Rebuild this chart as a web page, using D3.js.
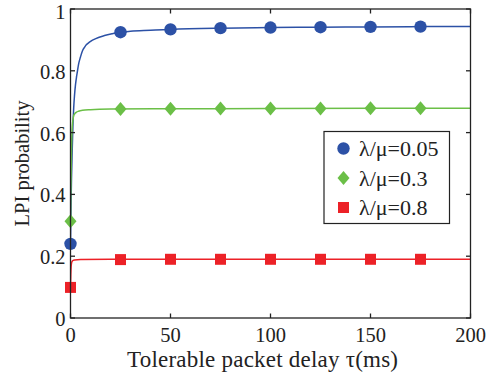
<!DOCTYPE html>
<html><head><meta charset="utf-8">
<script src="https://cdn.jsdelivr.net/npm/d3@7"></script>
<style>body{margin:0;background:#fff}</style>
</head><body><svg id="c" width="497" height="374"></svg>
<script>
// Data
const xTicks = [0, 50, 100, 150, 200];
const yTicks = [0, 0.2, 0.4, 0.6, 0.8, 1];
const yTickLabels = ["0", "0.2", "0.4", "0.6", "0.8", "1"];
const markerTau = [0, 25, 50, 75, 100, 125, 150, 175];
const blueMarkers = [0.24, 0.925, 0.934, 0.938, 0.940, 0.941, 0.942, 0.943];
const greenMarkers = [0.313, 0.676, 0.677, 0.678, 0.678, 0.678, 0.679, 0.679];
const redMarkers = [0.099, 0.189, 0.19, 0.19, 0.19, 0.19, 0.19, 0.19];
const blueCurveTau = [0, 0.25, 0.5, 0.85, 1.2, 1.6, 2, 2.5, 3, 3.5, 4, 5, 6, 7, 8, 9.3, 11, 14, 17, 21, 25, 30, 40, 50, 75, 100, 125, 150, 175, 200];
const blueCurveVal = [0.24, 0.36, 0.45, 0.54, 0.62, 0.68, 0.72, 0.755, 0.78, 0.80, 0.82, 0.845, 0.865, 0.876, 0.885, 0.892, 0.899, 0.908, 0.914, 0.92, 0.925, 0.928, 0.931, 0.934, 0.938, 0.940, 0.941, 0.942, 0.943, 0.943];
const greenCurveTau = [0, 0.2, 0.4, 0.6, 0.8, 1.1, 1.5, 2, 3, 4, 6, 10, 20, 50, 100, 200];
const greenCurveVal = [0.31, 0.42, 0.50, 0.57, 0.61, 0.635, 0.652, 0.66, 0.666, 0.669, 0.672, 0.674, 0.676, 0.677, 0.678, 0.679];
const redCurveTau = [0, 0.15, 0.3, 0.5, 0.8, 1.2, 2, 5, 20, 200];
const redCurveVal = [0.10, 0.14, 0.165, 0.177, 0.183, 0.186, 0.188, 0.189, 0.19, 0.19];
const seriesNames = ["λ/μ=0.05", "λ/μ=0.3", "λ/μ=0.8"];
const seriesColors = ["#2c51a6", "#6bbf47", "#ec2127"];
const seriesShapes = ["circle", "diamond", "square"];

const FONT = "'Liberation Serif', 'DejaVu Serif', serif";
const svg = d3.select("#c");
const L = 70.5, R = 470.5, T = 9, B = 318;
const x = d3.scaleLinear().domain([0, 200]).range([L, R]);
const y = d3.scaleLinear().domain([0, 1]).range([B, T]);

const curves = [
  [blueCurveTau, blueCurveVal],
  [greenCurveTau, greenCurveVal],
  [redCurveTau, redCurveVal]
];
const markers = [blueMarkers, greenMarkers, redMarkers];
const line = d3.line().x(d => x(d[0])).y(d => y(d[1])).curve(d3.curveMonotoneX);
svg.append("clipPath").attr("id", "pc").append("rect")
  .attr("x", L).attr("y", T).attr("width", R - L).attr("height", B - T);

function shapePath(s) {
  if (s === "circle") return d3.symbol(d3.symbolCircle, Math.PI * 6.2 * 6.2)();
  if (s === "square") return "M-5.5,-5.5H5.5V5.5H-5.5Z";
  return "M0,-7L6,0L0,7L-6,0Z";
}

curves.forEach((c, i) => {
  const pts = c[0].map((t, k) => [t, c[1][k]]);
  svg.append("path").attr("d", line(pts)).attr("fill", "none")
    .attr("stroke", seriesColors[i]).attr("stroke-width", 1.5)
    .attr("clip-path", "url(#pc)");
});
[0, 1, 2].forEach(i => {
  markerTau.forEach((t, k) => {
    svg.append("path").attr("d", shapePath(seriesShapes[i]))
      .attr("transform", `translate(${x(t)},${y(markers[i][k])})`)
      .attr("fill", seriesColors[i]);
  });
});

const ax = svg.append("g").attr("stroke", "#222").attr("stroke-width", 1.3);
ax.append("rect").attr("x", L).attr("y", T).attr("width", R - L).attr("height", B - T).attr("fill", "none");
const tl = 4.5;
xTicks.forEach(v => {
  ax.append("line").attr("x1", x(v)).attr("x2", x(v)).attr("y1", B).attr("y2", B - tl);
  ax.append("line").attr("x1", x(v)).attr("x2", x(v)).attr("y1", T).attr("y2", T + tl);
});
yTicks.forEach(v => {
  ax.append("line").attr("x1", L).attr("x2", L + tl).attr("y1", y(v)).attr("y2", y(v));
  ax.append("line").attr("x1", R).attr("x2", R - tl).attr("y1", y(v)).attr("y2", y(v));
});
function txt(g, fs) { return g.append("text").attr("font-family", FONT).attr("font-size", fs).attr("fill", "#222"); }
xTicks.forEach(v => {
  txt(svg, 20.5).attr("x", x(v)).attr("y", 341.5).attr("text-anchor", "middle").text(v);
});
yTicks.forEach((v, i) => {
  txt(svg, 20.5).attr("x", L - 5).attr("y", Math.max(y(v) + 8, 18.5)).attr("text-anchor", "end").text(yTickLabels[i]);
});
txt(svg, 23).attr("x", (L + R) / 2 - 8).attr("y", 366.5).attr("text-anchor", "middle")
  .attr("textLength", 271).attr("lengthAdjust", "spacing")
  .text("Tolerable packet delay τ(ms)");
txt(svg, 20.5).attr("transform", `translate(29,${(T + B) / 2}) rotate(-90)`)
  .attr("text-anchor", "middle").text("LPI probability");

const lg = svg.append("g");
lg.append("rect").attr("x", 324).attr("y", 131.5).attr("width", 125.5).attr("height", 92)
  .attr("fill", "#fff").attr("stroke", "#222").attr("stroke-width", 1.2);
seriesNames.forEach((n, i) => {
  const cy = 148.5 + i * 29.5;
  lg.append("path").attr("d", shapePath(seriesShapes[i]))
    .attr("transform", `translate(343.5,${cy})`).attr("fill", seriesColors[i]);
  txt(lg, 22).attr("x", 359).attr("y", cy + 7.5).text(n);
});
</script></body></html>
